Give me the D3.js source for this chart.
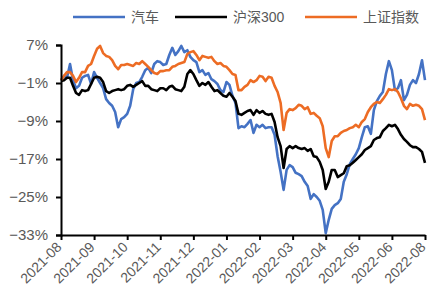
<!DOCTYPE html>
<html>
<head>
<meta charset="utf-8">
<script src="https://cdn.jsdelivr.net/npm/d3@7/dist/d3.min.js"></script>
<style>
  body { margin: 0; background: #fff; }
  svg text { font-family: "Liberation Sans", Arial, "Noto Sans CJK SC", sans-serif; fill: #595959; }
</style>
</head>
<body>
<svg id="chart" width="428" height="297"></svg>
<script>
// series names / colours
const seriesNames = ["汽车", "沪深300", "上证指数"];
const seriesColors = ["#4472c4", "#000000", "#ed6c24"];

// x axis labels (evenly spaced ticks)
const monthLabels = ["2021-08", "2021-09", "2021-10", "2021-11", "2021-12", "2022-01",
                     "2022-02", "2022-03", "2022-04", "2022-05", "2022-06", "2022-08"];

// y ticks, percent
const yTicks = [7, -1, -9, -17, -25, -33];

// cumulative returns, % (one sample every few trading days)
const auto = [
  -0.4, 0.5, 0.1, 3.0, -0.4, -2.1, -1.6, 0.1, 0.5, 0.7,
  -1.2, 1.3, 0.1, -1.0, -2.1, -4.4, -5.2, -5.8, -7.1, -10.3,
  -8.6, -8.2, -7.5, -5.8, -2.3, -1.0, -0.8, 0.3, 1.7, 2.2,
  1.1, 3.0, 3.6, 3.4, 2.8, 3.0, 4.9, 6.4, 4.9, 5.7,
  6.8, 5.5, 5.9, 4.5, 3.8, 3.4, 1.3, 1.7, 0.7, 1.1,
  -0.2, -0.6, -1.2, -2.5, -2.9, -0.8, -1.4, -3.7, -5.2, -10.5,
  -10.1, -10.3, -9.6, -8.8, -11.5, -9.8, -10.3, -9.8, -10.5, -10.3,
  -10.3, -11.9, -16.4, -19.7, -23.5, -19.3, -18.3, -18.7, -19.9, -20.2,
  -20.6, -21.8, -22.7, -25.4, -24.4, -25.0, -25.8, -27.7, -32.6, -29.8,
  -27.5, -26.7, -26.3, -25.4, -21.8, -20.2, -18.1, -17.0, -16.0, -14.7,
  -12.4, -10.3, -10.1, -11.7, -6.7, -4.8, -3.7, -2.9, 0.9, 3.6,
  1.7, -2.5, -2.1, -0.4, -4.6, -3.5, -1.4, -0.4, -1.0, 0.9,
  3.8, -0.4
];
const hs300 = [
  -0.6, -0.4, 0.1, 0.1, -1.6, -3.1, -3.5, -2.5, -2.7, -2.5,
  -1.2, 0.1, 0.3, 0.1, -0.8, -2.7, -3.1, -2.7, -2.5, -2.3,
  -2.5, -2.3, -1.6, -1.4, -1.8, -1.4, -1.0, -0.6, -1.6, -1.6,
  -2.3, -2.5, -2.7, -2.1, -2.1, -2.5, -1.8, -1.6, -2.3, -2.5,
  -2.7, -1.8, 0.9, 1.7, 0.9, -0.4, -1.6, -1.0, -1.4, -0.8,
  -1.8, -2.7, -2.5, -3.1, -3.7, -3.9, -3.1, -3.9, -4.8, -7.5,
  -7.7, -7.3, -6.9, -6.7, -7.7, -6.7, -7.3, -6.9, -7.5, -7.7,
  -7.5, -9.2, -12.4, -14.3, -18.9, -14.9, -14.3, -14.7, -14.3, -14.7,
  -14.9, -14.7, -15.3, -14.9, -16.4, -16.6, -17.6, -19.3, -23.3, -21.8,
  -19.3, -19.3, -20.8, -20.4, -20.0, -18.5, -18.3, -17.8, -17.2, -16.6,
  -16.0, -15.1, -14.7, -14.3, -13.0, -12.6, -12.4, -11.1, -10.5, -9.8,
  -10.1, -9.8, -10.7, -11.9, -12.8, -13.4, -14.1, -14.5, -14.5, -14.9,
  -15.5, -17.8
];
const sse = [
  -0.4, 0.5, 1.3, 1.3, 0.5, -0.8, 0.1, 1.3, 1.3, 2.6,
  3.0, 4.7, 6.2, 6.8, 5.3, 4.7, 4.5, 3.8, 2.6, 1.9,
  2.8, 2.8, 3.0, 2.8, 2.6, 3.2, 3.0, 3.6, 3.0, 2.4,
  1.7, 1.1, 0.9, 1.5, 1.5, 1.7, 1.7, 2.4, 2.6, 3.0,
  3.2, 3.4, 5.1, 5.5, 5.7, 4.9, 3.8, 4.7, 4.5, 4.3,
  4.5, 3.6, 3.0, 3.2, 2.6, 2.4, 1.7, 0.9, 0.7, -2.5,
  -2.5, -1.8, -1.4, -0.4, -0.8, -0.4, 0.5, 0.3, -0.6, 0.3,
  0.1, -1.6, -2.9, -5.2, -10.9, -7.3, -6.5, -6.7, -6.3, -5.6,
  -5.8, -6.5, -6.1, -7.5, -7.3, -7.9, -8.4, -10.1, -14.7, -16.6,
  -13.2, -12.2, -12.2, -11.5, -11.1, -10.9, -10.5, -10.3, -9.8, -10.3,
  -9.2, -8.6, -7.1, -6.1, -5.4, -5.0, -5.2, -4.4, -3.5, -2.3,
  -2.5, -2.3, -2.9, -4.2, -5.8, -6.5, -5.4, -5.8, -5.6, -5.8,
  -6.5, -8.8
];

const svg = d3.select("svg#chart"),
      margin = {top: 45, right: 3, bottom: 62, left: 61},
      width = +svg.attr("width") - margin.left - margin.right,
      height = +svg.attr("height") - margin.top - margin.bottom;

const allSeries = [auto, hs300, sse];

// SCALES
const xScale = d3.scaleLinear().domain([0, auto.length - 1]).range([0, width]);
const labelScale = d3.scalePoint().domain(monthLabels).range([0, width]);
const yScale = d3.scaleLinear().domain([-33, 7]).range([height, 0]);

const g = svg.append("g").attr("transform", `translate(${margin.left},${margin.top})`);

// LINES
const line = d3.line()
  .x((d, i) => xScale(i))
  .y(d => yScale(d));

g.selectAll(".series")
  .data(allSeries)
  .enter()
  .append("path")
    .attr("class", "series")
    .attr("fill", "none")
    .attr("stroke", (d, i) => seriesColors[i])
    .attr("stroke-width", 2.6)
    .attr("stroke-linejoin", "round")
    .attr("d", line);

// AXES
const yAxis = d3.axisLeft(yScale)
  .tickValues(yTicks)
  .tickSize(5)
  .tickPadding(8)
  .tickFormat(d => (d < 0 ? "\u2212" + Math.abs(d) : d) + "%");

const yG = g.append("g").call(yAxis);
yG.selectAll("text").style("font-size", "15px");

const xAxis = d3.axisBottom(labelScale).tickSize(5).tickSizeOuter(0);
const xG = g.append("g")
  .attr("transform", `translate(0,${height})`)
  .call(xAxis);
xG.selectAll("text")
  .style("font-size", "14px")
  .attr("text-anchor", "end")
  .attr("dy", null)
  .attr("y", 0)
  .attr("transform", "translate(1,13) rotate(-45)");

svg.selectAll(".domain, .tick line")
  .attr("stroke", "#000")
  .attr("stroke-width", 2);

// LEGEND
const legendX = [73, 175, 305];
const legend = svg.append("g").selectAll(".legend")
  .data(seriesNames)
  .enter()
  .append("g")
    .attr("class", "legend")
    .attr("transform", (d, i) => `translate(${legendX[i]},17)`);

legend.append("line")
  .attr("x1", 0).attr("x2", 52)
  .attr("stroke", (d, i) => seriesColors[i])
  .attr("stroke-width", 2.6);

legend.append("text")
  .attr("x", 58)
  .attr("y", 5)
  .style("font-size", "14px")
  .text(d => d);
</script>
</body>
</html>
